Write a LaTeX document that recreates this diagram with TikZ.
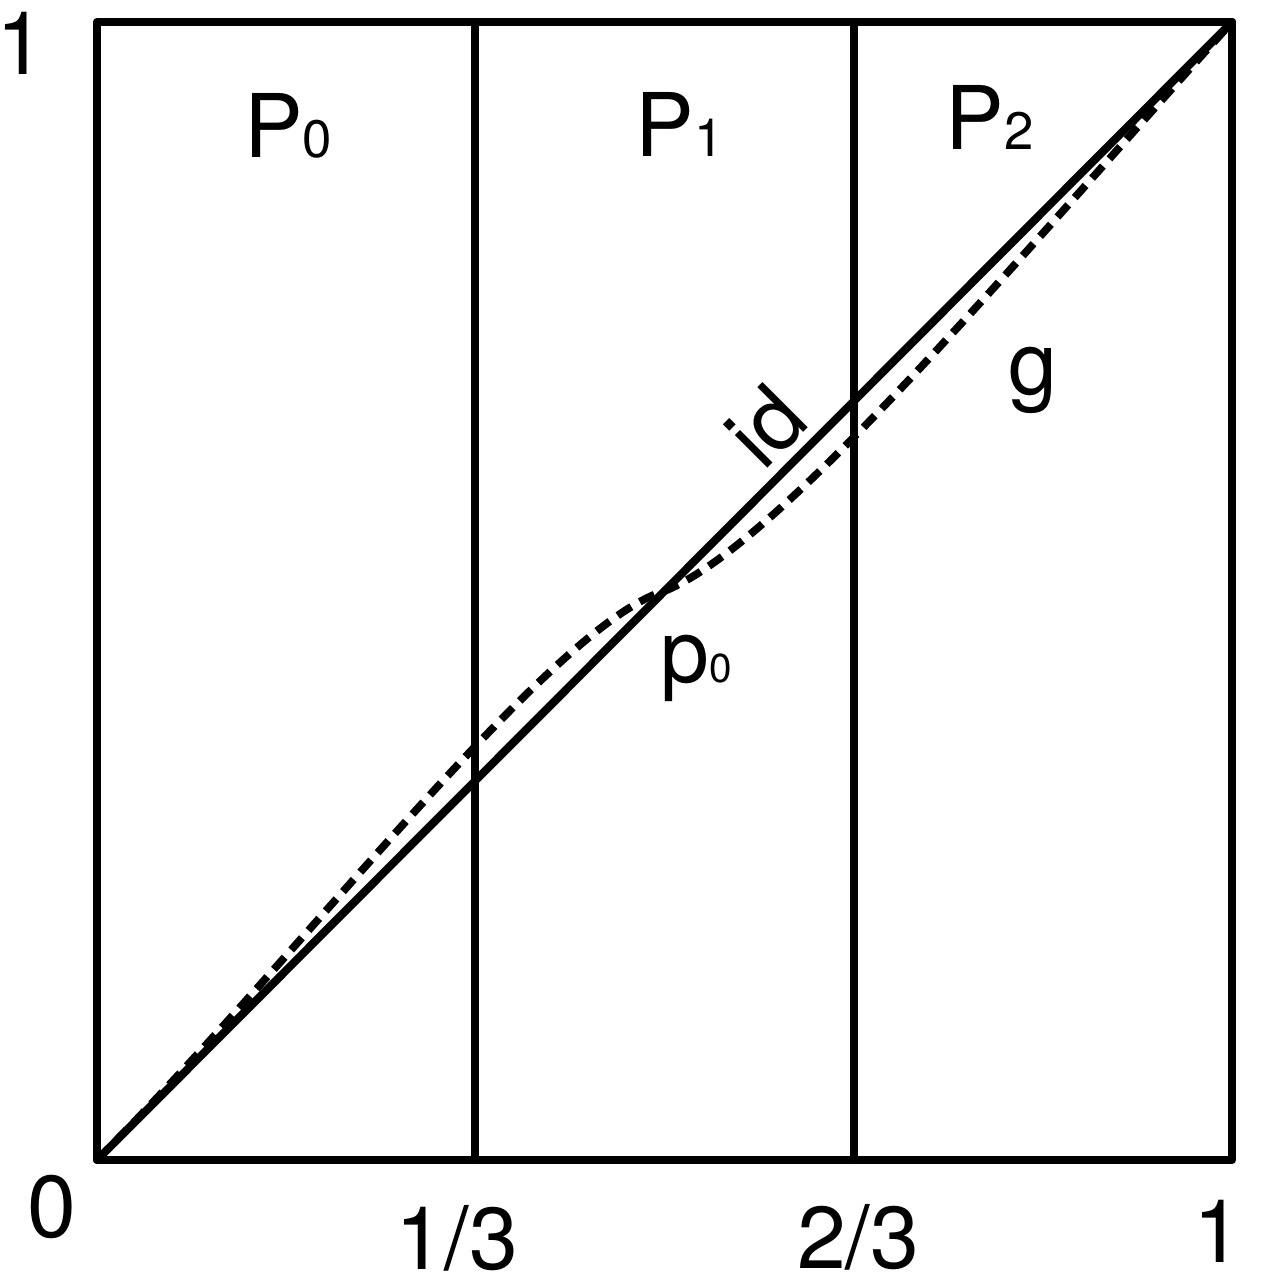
\documentclass[tikz,border=0pt]{standalone}
\usepackage{fontspec}
\setmainfont{TeX Gyre Heros}
\newcommand{\lblfont}{\fontsize{25}{30}\selectfont}
\newcommand{\bigidx}[1]{{\fontsize{15}{18}\selectfont #1}}
\newcommand{\smallidx}[1]{{\fontsize{11.5}{14}\selectfont #1}}
\begin{document}
\begin{tikzpicture}[x=11.35cm,y=11.38cm,line join=round,line cap=round,font=\lblfont,
		every node/.style={inner sep=0pt},
		frame/.style={line width=2.4pt},
		divider/.style={line width=2.3pt},
		idline/.style={line width=2.3pt},
		gline/.style={line width=2.2pt,line cap=butt,dash pattern=on 4.6pt off 2.8pt}]
	\useasboundingbox (-0.0855,-0.1081) rectangle (1.0256,1.0193);
	\coordinate (O) at (0,0);
	\coordinate (E) at (1,1);
	\coordinate (F) at (0.5,0.5);
	\draw[divider] (1/3,0) -- (1/3,1);
	\draw[divider] (2/3,0) -- (2/3,1);
	\draw[frame] (O) rectangle (E);
	\draw[idline] (O) -- (E);
	\draw[gline] (O) .. controls (0.18,0.18) and (0.40,0.47) .. (F) .. controls (0.6,0.54) and (0.8,0.78) .. (E);
	\node[anchor=base] (ytop) at (-0.067,0.9534) {1};
	\node[anchor=base] (xzero) at (-0.0396,-0.0677) {0};
	\node[anchor=base] (xthird) at (0.3172,-0.0958) {1/3};
	\node[anchor=base] (xtwothird) at (0.6705,-0.095) {2/3};
	\node[anchor=base] (xone) at (0.9877,-0.0905) {1};
	\node[anchor=base west] (pzero) at (0.129,0.881) {P\bigidx{0}};
	\node[anchor=base west] (pone) at (0.474,0.882) {P\bigidx{1}};
	\node[anchor=base west] (ptwo) at (0.747,0.8875) {P\bigidx{2}};
	\node[anchor=base west] (fixpt) at (0.496,0.420) {p\smallidx{0}};
	\node[anchor=base west] (glbl) at (0.802,0.673) {g};
	\node[rotate=45] (idlbl) at (0.589,0.645) {id};
\end{tikzpicture}
\end{document}
